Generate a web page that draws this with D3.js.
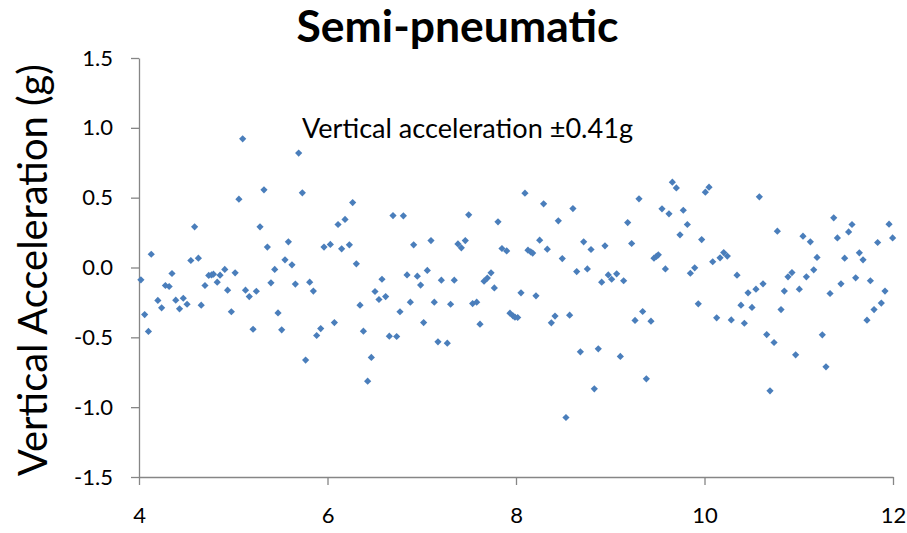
<!DOCTYPE html>
<html>
<head>
<meta charset="utf-8">
<script src="https://cdn.jsdelivr.net/npm/d3@7"></script>
<style>
  body { margin: 0; background: #fff; }
  svg { display: block; }
</style>
</head>
<body>
<script>
// chart values
var chartTitle = "Semi-pneumatic";
var yLabel = "Vertical Acceleration (g)";
var note = "Vertical acceleration \u00b10.41g";
var xTicks = [4, 6, 8, 10, 12];
var yTicks = [-1.5, -1.0, -0.5, 0.0, 0.5, 1.0, 1.5];

var timeS = [
  4.02, 4.06, 4.10, 4.13, 4.20, 4.24, 4.28, 4.32, 4.35, 4.39, 4.43, 4.47, 4.51, 4.55, 4.59, 4.63, 4.66,
  4.70, 4.74, 4.77, 4.79, 4.83, 4.86, 4.91, 4.94, 4.98, 5.02, 5.06, 5.10, 5.13, 5.17, 5.21, 5.245,
  5.284, 5.326, 5.362, 5.400, 5.440, 5.475, 5.514, 5.549, 5.585, 5.623, 5.659, 5.694, 5.733, 5.768,
  5.811, 5.850, 5.885, 5.928, 5.963, 6.030, 6.073, 6.112, 6.150, 6.186, 6.232, 6.267, 6.306, 6.345,
  6.381, 6.426, 6.465, 6.504, 6.546,
  6.578, 6.617, 6.656, 6.695, 6.734, 6.769, 6.805, 6.844, 6.879, 6.914, 6.953, 6.988, 7.020, 7.059,
  7.098, 7.133, 7.172, 7.208, 7.271, 7.306, 7.345, 7.384, 7.420, 7.462, 7.498, 7.540, 7.583, 7.618,
  7.661, 7.696, 7.735, 7.770, 7.809, 7.851,
  7.901, 7.936, 7.968, 7.989, 8.018, 8.053, 8.095, 8.127, 8.156, 8.177, 8.212, 8.251, 8.293, 8.332,
  8.375, 8.414, 8.449, 8.491, 8.530, 8.569, 8.604, 8.644, 8.683, 8.718, 8.757, 8.796, 8.831, 8.873,
  8.909, 8.944, 8.979, 9.015, 9.068, 9.107, 9.142, 9.185,
  9.227, 9.263, 9.305, 9.344, 9.383, 9.432, 9.464, 9.489, 9.510, 9.549, 9.585, 9.623, 9.659, 9.701,
  9.740, 9.775, 9.818, 9.850, 9.896, 9.934, 9.970, 10.009, 10.048, 10.087, 10.129, 10.165, 10.204,
  10.242, 10.284, 10.345, 10.387, 10.423, 10.462, 10.504,
  10.546, 10.582, 10.621, 10.660, 10.695, 10.738, 10.773, 10.812, 10.847, 10.886, 10.928, 10.967,
  11.006, 11.045, 11.081, 11.123, 11.159, 11.194, 11.250, 11.289, 11.332, 11.371, 11.410, 11.448,
  11.487, 11.529, 11.565, 11.604, 11.643, 11.682, 11.724, 11.760, 11.799, 11.837, 11.876, 11.915,
  11.958, 11.996
];

var accelG = [
  -0.088, -0.337, -0.458, 0.095, -0.236, -0.289, -0.129, -0.136, -0.043, -0.234, -0.296, -0.220, -0.263, 0.050, 0.291, 0.067, -0.270,
  -0.129, -0.057, -0.053, -0.048, -0.105, -0.055, -0.014, -0.162, -0.317, -0.038, 0.489, 0.921, -0.162, -0.208, -0.442, -0.170,
  0.291, 0.556, 0.146, -0.110, -0.014, -0.325, -0.446, 0.055, 0.184, 0.019, -0.119, 0.819, 0.535, -0.663,
  -0.105, -0.169, -0.487, -0.437, 0.146, 0.165, -0.394, 0.308, 0.134, 0.344, 0.162, 0.465, 0.026, -0.270,
  -0.456, -0.814, -0.644, -0.172, -0.229,
  -0.084, -0.208, -0.492, 0.372, -0.494, -0.317, 0.370, -0.053, -0.248, 0.162, -0.062, -0.126, -0.394, -0.021,
  0.193, -0.248, -0.532, -0.091, -0.542, -0.263, -0.091, 0.169, 0.141, 0.193, 0.377, -0.258, -0.248, -0.406,
  -0.098, -0.076, -0.038, -0.146, 0.327, 0.136,
  0.119, -0.327, -0.346, -0.356, -0.358, -0.181, 0.532, 0.124, 0.112, 0.103, -0.203, 0.196, 0.456, 0.131,
  -0.396, -0.348, 0.334, 0.064, -1.074, -0.341, 0.422, -0.029, -0.604, 0.184, -0.010, 0.129, -0.869, -0.582,
  -0.105, 0.155, -0.053, -0.084, -0.045, -0.637, -0.095, 0.322,
  0.172, -0.379, 0.492, -0.315, -0.797, -0.384, 0.067, 0.079, 0.091, 0.420, -0.010, 0.384, 0.611, 0.570,
  0.234, 0.410, 0.308, -0.041, -0.002, -0.260, 0.200, 0.539, 0.575, 0.041, -0.360, 0.069, 0.107,
  0.082, -0.375, -0.055, -0.270, -0.399, -0.181, -0.286,
  -0.155, 0.506, -0.117, -0.480, -0.883, -0.537, 0.260, -0.301, -0.169, -0.067, -0.036, -0.625,
  -0.155, 0.224, -0.067, 0.184, -0.017, 0.072, -0.482, -0.711, -0.186, 0.356, 0.212, -0.117,
  0.067, 0.255, 0.308, -0.074, 0.105, 0.055, -0.377, -0.095, -0.301, 0.179, -0.255, -0.169,
  0.310, 0.212
];

var width = 907, height = 533;
var margin = {left: 139, right: 14, top: 58, bottom: 56};
var axisColor = "#868686";
var dotColor = "#4A7EBB";
var font = "Lato, 'Open Sans', sans-serif";

var data = timeS.map(function(t, i){ return {t: t, g: accelG[i]}; });

var x = d3.scaleLinear()
          .domain([4, 12])
          .range([margin.left, width - margin.right]);
var y = d3.scaleLinear()
          .domain([-1.5, 1.5])
          .range([height - margin.bottom, margin.top]);

var svg = d3.select("body").append("svg")
            .attr("width", width)
            .attr("height", height);

var yAxis = d3.axisLeft(y)
              .tickValues(yTicks)
              .tickSize(8)
              .tickSizeOuter(0)
              .tickPadding(18)
              .tickFormat(function(d){ return d.toFixed(1); });
var xAxis = d3.axisBottom(x)
              .tickValues(xTicks)
              .tickSize(8)
              .tickSizeOuter(0)
              .tickPadding(38)
              .tickFormat(function(d){ return d; });

var gy = svg.append("g")
            .attr("transform", "translate(" + margin.left + ",0)")
            .call(yAxis);
var gx = svg.append("g")
            .attr("transform", "translate(0," + (height - margin.bottom) + ")")
            .call(xAxis);

[gx, gy].forEach(function(g){
  g.selectAll(".domain").attr("stroke", axisColor).attr("stroke-width", 1.3);
  g.selectAll(".tick line").attr("stroke", axisColor).attr("stroke-width", 1.3);
  g.selectAll(".tick text")
    .attr("fill", "#000")
    .style("font-family", font)
    .style("font-size", "22px");
});
gx.selectAll(".tick text").attr("dy", null);

// diamond markers
var diamond = "M0,-3.6L3.6,0L0,3.6L-3.6,0Z";
svg.append("g")
   .selectAll("path")
   .data(data)
   .enter().append("path")
   .attr("d", diamond)
   .attr("fill", dotColor)
   .attr("transform", function(d){ return "translate(" + x(d.t) + "," + y(d.g) + ")"; });

// title
svg.append("text")
   .attr("x", 457.5)
   .attr("y", 42)
   .attr("text-anchor", "middle")
   .attr("textLength", 322)
   .attr("lengthAdjust", "spacingAndGlyphs")
   .style("font-family", font)
   .style("font-weight", "bold")
   .style("font-size", "43px")
   .text(chartTitle);

// note in the plot
svg.append("text")
   .attr("x", 302)
   .attr("y", 138)
   .attr("textLength", 331)
   .attr("lengthAdjust", "spacingAndGlyphs")
   .style("font-family", font)
   .style("font-size", "27px")
   .text(note);

// y axis title
svg.append("text")
   .attr("transform", "translate(47,270) rotate(-90)")
   .attr("text-anchor", "middle")
   .attr("textLength", 412)
   .attr("lengthAdjust", "spacingAndGlyphs")
   .style("font-family", font)
   .style("font-size", "40px")
   .text(yLabel);
</script>
</body>
</html>
